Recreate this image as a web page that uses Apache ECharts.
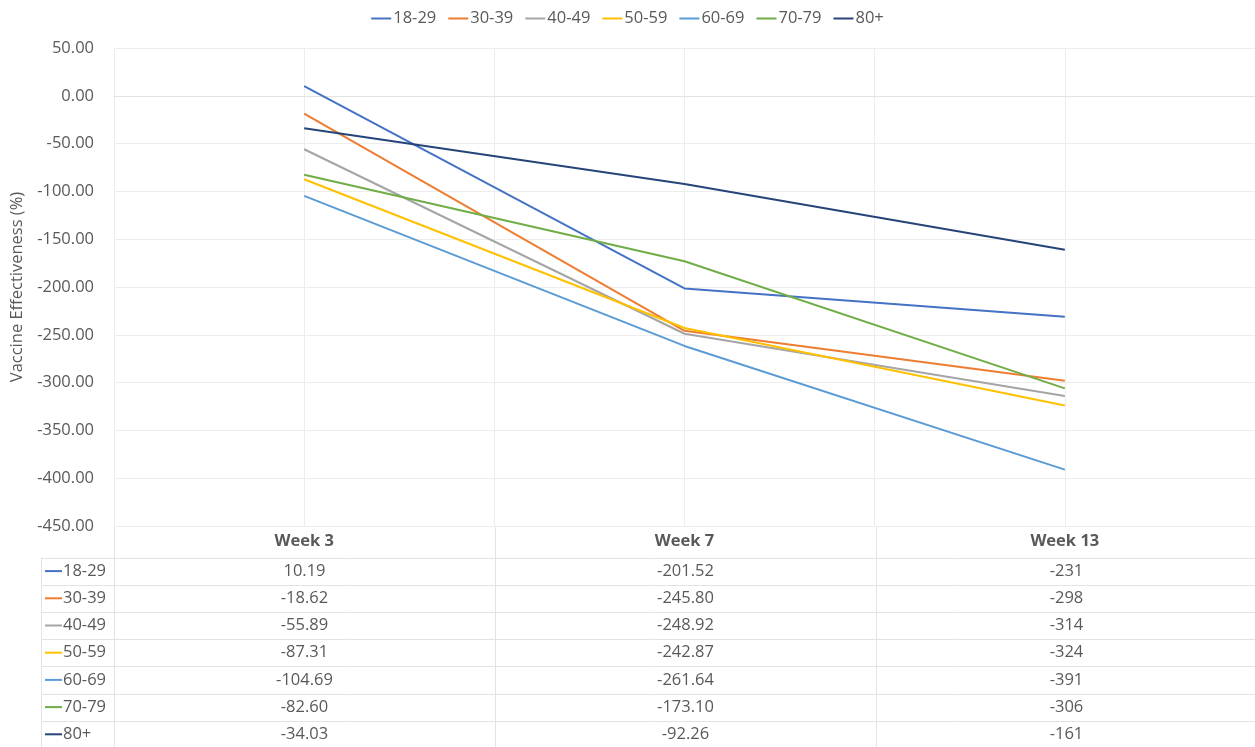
<!DOCTYPE html>
<html><head><meta charset="utf-8">
<script src="https://cdn.jsdelivr.net/npm/echarts@6/dist/echarts.min.js"></script>
<style>html,body{margin:0;padding:0;background:#fff}#c{width:1255px;height:747px}</style>
</head><body><div id="c"></div>
<script>
const categories = ['Week 3', 'Week 7', 'Week 13'];
const groups = ['18-29', '30-39', '40-49', '50-59', '60-69', '70-79', '80+'];
const s1829 = [10.19, -201.52, -231];
const s3039 = [-18.62, -245.80, -298];
const s4049 = [-55.89, -248.92, -314];
const s5059 = [-87.31, -242.87, -324];
const s6069 = [-104.69, -261.64, -391];
const s7079 = [-82.60, -173.10, -306];
const s80p = [-34.03, -92.26, -161];
const colDecimals = [2, 2, 0];
const colors = ['#4472C4', '#ED7D31', '#A5A5A5', '#FFC000', '#5B9BD5', '#70AD47', '#264478'];
const seriesData = [s1829, s3039, s4049, s5059, s6069, s7079, s80p];

const FONT = '"Open Sans", "Liberation Sans", sans-serif';
const TXT = '#595959';
const FS = 16.5;
const GRID_L = 114, GRID_R = 1257, GRID_T = 48, GRID_B = 526;
const TABLE_L = 41, HEAD_B = 557.5, ROW_H = 27.2;
const LINE_C = '#e3e3e3';

const chart = echarts.init(document.getElementById('c'));
const bandW = (GRID_R - GRID_L) / categories.length;

const graphics = [];
for (let i = 0; i <= groups.length; i++) {
  const y = Math.round(HEAD_B + i * ROW_H) + 0.5;
  graphics.push({type: 'line', shape: {x1: TABLE_L, y1: y, x2: GRID_R, y2: y}, style: {stroke: LINE_C, lineWidth: 1}, silent: true});
}
const vxs = [GRID_L];
for (let j = 1; j < categories.length; j++) vxs.push(GRID_L + j * bandW);
vxs.forEach(x => {
  const xx = Math.round(x) + 0.5;
  graphics.push({type: 'line', shape: {x1: xx, y1: GRID_B, x2: xx, y2: 747}, style: {stroke: LINE_C, lineWidth: 1}, silent: true});
});
graphics.push({type: 'line', shape: {x1: TABLE_L + 0.5, y1: HEAD_B, x2: TABLE_L + 0.5, y2: 747}, style: {stroke: LINE_C, lineWidth: 1}, silent: true});
groups.forEach((g, i) => {
  const cy = HEAD_B + i * ROW_H + ROW_H / 2;
  graphics.push({type: 'line', shape: {x1: 45, y1: cy, x2: 62, y2: cy}, style: {stroke: colors[i], lineWidth: 2}, silent: true});
  graphics.push({type: 'text', x: 63, y: cy, style: {text: g, fill: TXT, font: FS + 'px ' + FONT, verticalAlign: 'middle', align: 'left'}, silent: true});
  seriesData[i].forEach((v, j) => {
    graphics.push({type: 'text', x: GRID_L + (j + 0.5) * bandW, y: cy,
      style: {text: v.toFixed(colDecimals[j]), fill: TXT, font: FS + 'px ' + FONT, verticalAlign: 'middle', align: 'center'}, silent: true});
  });
});

chart.setOption({
  animation: false,
  backgroundColor: '#fff',
  color: colors,
  textStyle: {fontFamily: FONT},
  legend: {
    top: 5, left: 'center', icon: 'rect', itemWidth: 20, itemHeight: 2, itemGap: 12,
    textStyle: {color: TXT, fontSize: FS, fontFamily: FONT, padding: [0, 0, 0, -3]},
    data: groups
  },
  grid: {left: GRID_L, right: 1255 - GRID_R, top: GRID_T, bottom: 747 - GRID_B, containLabel: false},
  xAxis: [{
    type: 'category', data: categories, boundaryGap: true, position: 'bottom',
    axisLine: {show: true, lineStyle: {color: LINE_C}},
    axisTick: {show: false},
    axisLabel: {color: TXT, fontSize: FS, fontWeight: 'bold', fontFamily: FONT, margin: 7},
    splitLine: {show: false}
  }, {
    type: 'value', min: 0, max: categories.length * 2, interval: 1, position: 'top',
    axisLine: {show: false}, axisTick: {show: false}, axisLabel: {show: false},
    splitLine: {show: true, lineStyle: {color: '#ededed'}}
  }],
  yAxis: {
    type: 'value', min: -450, max: 50, interval: 50,
    name: 'Vaccine Effectiveness (%)', nameLocation: 'middle', nameGap: 84,
    nameTextStyle: {color: TXT, fontSize: FS, fontFamily: FONT},
    axisLine: {show: false}, axisTick: {show: false},
    axisLabel: {color: TXT, fontSize: FS, fontFamily: FONT, margin: 20, formatter: v => v.toFixed(2)},
    splitLine: {show: true, lineStyle: {color: '#ededed'}}
  },
  series: groups.map((g, i) => ({
    name: g, type: 'line', xAxisIndex: 0, data: seriesData[i], showSymbol: false, symbol: 'none',
    lineStyle: {width: 2, color: colors[i]}, itemStyle: {color: colors[i]}
  })),
  graphic: graphics
});
</script></body></html>
